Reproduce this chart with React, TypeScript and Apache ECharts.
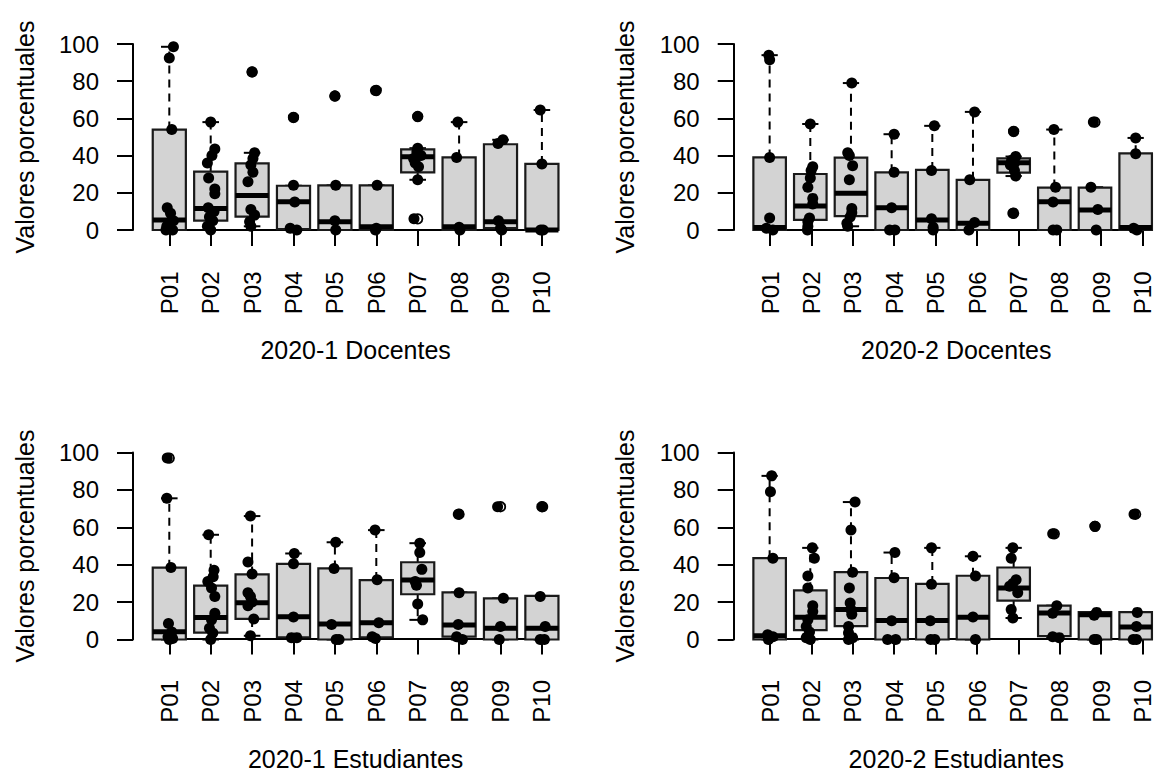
import React, { useEffect, useRef } from "react";
import * as echarts from "echarts";

// ---------------- data ----------------
const categories = ["P01", "P02", "P03", "P04", "P05", "P06", "P07", "P08", "P09", "P10"];
const panelTitles = ["2020-1 Docentes", "2020-2 Docentes", "2020-1 Estudiantes", "2020-2 Estudiantes"];
const yAxisTitle = "Valores porcentuales";

// Panel 1: 2020-1 Docentes
const doc1Low = [0, 0, 2, 0, 0, 0, 27, 0, 0, 0];
const doc1Q1 = [0, 5, 7.2, 0.5, 0, 0, 31, 0, 1, 0];
const doc1Med = [5.4, 11.6, 18.5, 15.2, 4.5, 1.8, 39.4, 1.8, 4.5, 0];
const doc1Q3 = [54, 31.4, 35.8, 23.8, 24, 24, 43.4, 39, 46.1, 35.5];
const doc1High = [98.5, 58, 41.5, 23.8, 24, 24, 44, 58, 48.5, 64.5];
const doc1Points = [
  [98.5, 92.5, 54, 12, 9, 5, 2, 0, 0],
  [58, 43.5, 40, 36, 28, 22, 19.5, 12, 10, 7, 5, 2, 0],
  [85, 41.5, 38.5, 35, 31, 26, 11, 8, 4.5, 2],
  [60.5, 24, 15, 1, 0],
  [72, 24, 5, 0],
  [75, 24, 1, 0],
  [61, 44, 42, 40, 38.5, 36, 34, 27, 6],
  [58, 39, 1.5, 0],
  [48.5, 46.5, 5, 1, 0],
  [64.5, 35.5, 0, 0],
];
const doc1Jitter = [
  [0.1, 0, 0.06, -0.05, 0.03, 0.1, -0.06, 0.08, -0.08],
  [0, 0.1, 0.03, -0.08, -0.05, 0.1, 0.1, -0.06, 0.08, -0.03, 0.05, -0.08, 0],
  [0, 0.06, 0.02, -0.03, 0.02, -0.1, -0.03, 0.06, -0.06, -0.03],
  [0, 0, 0.03, -0.08, 0.08],
  [0, 0.02, 0, 0.02],
  [-0.02, 0.02, 0, -0.02],
  [0, 0, -0.02, 0.08, -0.1, -0.06, 0.02, 0, -0.09],
  [-0.03, -0.06, 0, 0.02],
  [0.06, -0.06, -0.05, 0, 0.03],
  [-0.04, 0, -0.03, 0.03],
];
const doc1Outliers = [[], [], [85], [60.5], [72], [75], [61, 6], [], [], []];

// Panel 2: 2020-2 Docentes
const doc2Low = [0, 0, 2, 0, 0, 0, 29, 0, 0, 0];
const doc2Q1 = [0, 5.4, 7.5, 0, 0, 0, 30.8, 0, 0, 0];
const doc2Med = [1.3, 12.9, 19.7, 12, 5.4, 3.6, 36.2, 15.2, 10.8, 1.3];
const doc2Q3 = [39, 30.1, 38.9, 31, 32.3, 27, 38.5, 22.8, 22.8, 41.2];
const doc2High = [94, 57, 79, 51.5, 56, 63.5, 39.5, 54, 23, 49.5];
const doc2Points = [
  [94, 91.5, 39, 6.5, 1, 0],
  [57, 34, 32, 28, 23, 17, 14, 6.5, 4.5, 2, 0],
  [79, 41.5, 40, 34.5, 27, 11.5, 9.3, 7, 3.6, 2],
  [51.5, 31, 12, 0, 0],
  [56, 32, 6, 1.5, 0],
  [63.5, 27, 4, 0],
  [53, 39.5, 37.5, 36, 35, 32, 29, 9],
  [54, 23, 15, 0, 0],
  [58, 23, 11, 0],
  [49.5, 41, 1, 0],
];
const doc2Jitter = [
  [-0.02, 0, 0, 0, -0.08, 0.08],
  [0, 0.06, 0.02, 0, -0.06, 0.06, 0.06, -0.02, -0.06, -0.06, -0.07],
  [0.02, -0.08, -0.04, 0.04, -0.04, 0.02, 0.02, -0.02, -0.1, -0.08],
  [0.06, 0.06, 0, -0.05, 0.08],
  [0.05, -0.02, -0.02, 0.02, 0.02],
  [0.04, -0.08, 0.04, -0.1],
  [0, 0.05, -0.05, 0.02, -0.08, 0.02, 0.05, -0.02],
  [-0.01, 0.03, -0.03, -0.03, 0.06],
  [-0.04, -0.1, 0.07, 0.03],
  [0, 0, -0.05, 0.03],
];
const doc2Outliers = [[], [], [], [], [], [], [53, 9], [], [58], []];

// Panel 3: 2020-1 Estudiantes
const est1Low = [0, 0, 2, 1, 0, 0.5, 10.5, 0, 0, 0];
const est1Q1 = [0, 3.7, 11, 1.2, 0, 1.2, 24.2, 1.5, 0, 0];
const est1Med = [4.2, 11.7, 19.7, 12.2, 8.3, 9, 31.8, 7.8, 6, 6];
const est1Q3 = [38.4, 28.8, 34.8, 40.4, 38, 31.8, 41.3, 25.2, 22, 23.3];
const est1High = [75.5, 56, 66, 46, 52, 58.5, 51.5, 25.2, 22, 23.3];
const est1Points = [
  [97, 75.5, 38.5, 8.5, 4, 1.5, 0.5, 0],
  [56, 37, 33.5, 31, 27.5, 23, 14, 10.5, 6, 3.5, 0],
  [66, 41.5, 35, 25, 23, 20, 18, 11, 2],
  [46, 40.5, 12, 1, 1],
  [52, 38, 8, 0, 0],
  [58.5, 32, 9, 1.5, 0.5],
  [51.5, 46.5, 37.5, 31, 29, 19, 10.5],
  [67, 25, 8, 1.5, 0],
  [71, 22, 7, 0],
  [71, 23, 7, 0, 0],
];
const est1Jitter = [
  [-0.05, -0.06, 0.04, -0.02, 0.06, -0.03, 0.08, 0],
  [-0.05, 0.08, 0.06, -0.07, 0.02, 0.1, 0.1, 0.02, -0.03, 0.05, 0],
  [-0.04, -0.1, 0, -0.1, -0.04, 0, -0.1, 0.04, -0.04],
  [0.02, 0, 0, -0.05, 0.08],
  [0.02, -0.02, -0.08, 0.03, 0.1],
  [-0.03, 0.02, 0.06, -0.1, -0.02],
  [0.05, 0.05, 0.1, -0.06, -0.03, 0, 0.12],
  [-0.02, 0, -0.02, -0.06, 0.08],
  [-0.07, 0.07, 0, -0.03],
  [0.02, -0.04, 0.08, -0.04, 0.06],
];
const est1Outliers = [[97], [], [], [], [], [], [], [67], [71], [71]];

// Panel 4: 2020-2 Estudiantes
const est2Low = [0, 0, 0, 0, 0, 0, 11.5, 1, 0, 0];
const est2Q1 = [0, 5, 7.1, 0, 0, 0, 20.8, 1.8, 0, 0];
const est2Med = [2, 11.9, 16, 10.1, 10.1, 11.9, 27.5, 14.2, 13.3, 6.7];
const est2Q3 = [43.5, 26.3, 36, 32.9, 29.7, 34.1, 38.5, 18.1, 14.6, 14.6];
const est2High = [87.5, 49, 73.5, 46.5, 49, 44.5, 49, 18.1, 14.6, 14.6];
const est2Points = [
  [87.5, 79, 43.5, 2.5, 1.5, 0],
  [49, 43.5, 34, 27.5, 18, 15, 10.5, 7, 4, 1, 0],
  [73.5, 58.5, 36, 27.5, 19.5, 16, 13.5, 7, 3.5, 1, 0],
  [46.5, 33, 10, 0, 0],
  [49, 29.5, 10, 0, 0],
  [44.5, 34, 12, 0],
  [49, 43.5, 32, 30, 28.5, 25, 16, 11.5],
  [56.5, 18, 14, 1.5, 1],
  [60.5, 14.5, 13, 0, 0],
  [67, 14.5, 7, 0, 0],
];
const est2Jitter = [
  [0.05, 0.02, 0.08, -0.05, 0.08, -0.03],
  [0.05, 0.1, -0.06, -0.06, 0.06, 0.06, -0.06, -0.1, -0.02, -0.1, 0],
  [0.1, 0, 0.04, -0.04, -0.02, 0, 0.02, -0.06, -0.06, 0.04, -0.06],
  [0.08, 0.06, 0, -0.1, 0.1],
  [-0.02, -0.02, -0.05, -0.04, 0.06],
  [0, 0.06, 0, 0.06],
  [-0.02, -0.06, 0.06, -0.02, -0.1, 0.1, -0.06, -0.02],
  [-0.04, 0.06, -0.04, -0.04, 0.12],
  [0, 0.04, -0.02, -0.02, 0.04],
  [-0.04, 0.04, 0.02, 0.02, -0.06],
];
const est2Outliers = [[], [], [], [], [], [], [], [56.5], [60.5], [67]];

// ---------------- layout ----------------
const FONT = "Liberation Sans";
const SPACING = 41.4;
const P01_X = [169.3, 770];
const TOP_Y = [44, 452.5];
const ZERO_Y = [230, 639.5];

type Panel = {
  low: number[]; q1: number[]; med: number[]; q3: number[]; high: number[];
  points: number[][]; jitter: number[][]; outliers: number[][]; title: string;
};

const panels: Panel[] = [
  { low: doc1Low, q1: doc1Q1, med: doc1Med, q3: doc1Q3, high: doc1High, points: doc1Points, jitter: doc1Jitter, outliers: doc1Outliers, title: panelTitles[0] },
  { low: doc2Low, q1: doc2Q1, med: doc2Med, q3: doc2Q3, high: doc2High, points: doc2Points, jitter: doc2Jitter, outliers: doc2Outliers, title: panelTitles[1] },
  { low: est1Low, q1: est1Q1, med: est1Med, q3: est1Q3, high: est1High, points: est1Points, jitter: est1Jitter, outliers: est1Outliers, title: panelTitles[2] },
  { low: est2Low, q1: est2Q1, med: est2Med, q3: est2Q3, high: est2High, points: est2Points, jitter: est2Jitter, outliers: est2Outliers, title: panelTitles[3] },
];

function buildOption() {
  const grid: any[] = [];
  const xAxis: any[] = [];
  const yAxis: any[] = [];
  const series: any[] = [];

  panels.forEach((p, k) => {
    const col = k % 2;
    const row = Math.floor(k / 2);
    const p01 = P01_X[col];
    const top = TOP_Y[row];
    const height = ZERO_Y[row] - TOP_Y[row];
    const axisX = p01 - 36.3;
    const gridLeft = p01 - SPACING / 2;
    const gA = grid.length;
    grid.push({ left: gridLeft, top, width: SPACING * 10, height });
    grid.push({ left: p01, top, width: SPACING * 9, height });

    const txt = { color: "#000", fontFamily: FONT, fontSize: 24 };

    // data grid axes
    xAxis.push({
      gridIndex: gA, type: "value", min: 0.5, max: 10.5, show: false,
    });
    yAxis.push({
      gridIndex: gA, type: "value", min: 0, max: 100, interval: 20,
      offset: gridLeft - axisX,
      axisLine: { show: true, lineStyle: { color: "#000", width: 2 } },
      axisTick: { show: true, length: 16, lineStyle: { color: "#000", width: 2 } },
      axisLabel: { ...txt, margin: 34 },
      splitLine: { show: false },
      name: yAxisTitle, nameLocation: "middle", nameGap: 96,
      nameTextStyle: { color: "#000", fontFamily: FONT, fontSize: 25 },
    });
    // category axis grid
    xAxis.push({
      gridIndex: gA + 1, type: "value", min: 1, max: 10, interval: 1,
      offset: height * 0.04,
      axisLine: { show: true, lineStyle: { color: "#000", width: 2 } },
      axisTick: { show: true, length: 16, lineStyle: { color: "#000", width: 2 } },
      axisLabel: { ...txt, rotate: 90, margin: 34, formatter: (v: number) => categories[Math.round(v) - 1] ?? "" },
      splitLine: { show: false },
      name: p.title, nameLocation: "middle", nameGap: 100,
      nameTextStyle: { color: "#000", fontFamily: FONT, fontSize: 25 },
    });
    yAxis.push({ gridIndex: gA + 1, type: "value", min: 0, max: 100, show: false });

    const boxData = categories.map((_, i) => [i + 1, p.low[i], p.q1[i], p.med[i], p.q3[i], p.high[i]]);
    series.push({
      type: "custom",
      xAxisIndex: gA, yAxisIndex: gA,
      clip: false, silent: true,
      data: boxData,
      renderItem: (_params: any, api: any) => {
        const x = api.value(0);
        const lo = api.value(1), q1 = api.value(2), med = api.value(3), q3 = api.value(4), hi = api.value(5);
        const half = 0.4, st = 0.2;
        const c = (xx: number, yy: number) => api.coord([xx, yy]);
        const pLo = c(x, lo), pQ1 = c(x, q1), pQ3 = c(x, q3), pHi = c(x, hi);
        const tl = c(x - half, q3), br = c(x + half, q1);
        const mL = c(x - half, med), mR = c(x + half, med);
        const sHiL = c(x - st, hi), sHiR = c(x + st, hi);
        const sLoL = c(x - st, lo), sLoR = c(x + st, lo);
        const dash = { stroke: "#000", lineWidth: 2, lineDash: [8, 6] };
        const solid = { stroke: "#000", lineWidth: 2 };
        return {
          type: "group",
          children: [
            { type: "line", shape: { x1: pQ3[0], y1: pQ3[1], x2: pHi[0], y2: pHi[1] }, style: dash },
            { type: "line", shape: { x1: pQ1[0], y1: pQ1[1], x2: pLo[0], y2: pLo[1] }, style: dash },
            { type: "line", shape: { x1: sHiL[0], y1: sHiL[1], x2: sHiR[0], y2: sHiR[1] }, style: solid },
            { type: "line", shape: { x1: sLoL[0], y1: sLoL[1], x2: sLoR[0], y2: sLoR[1] }, style: solid },
            {
              type: "rect",
              shape: { x: tl[0], y: tl[1], width: br[0] - tl[0], height: br[1] - tl[1] },
              style: { fill: "#D3D3D3", stroke: "#1a1a1a", lineWidth: 2.2 },
            },
            { type: "line", shape: { x1: mL[0], y1: mL[1], x2: mR[0], y2: mR[1] }, style: { stroke: "#000", lineWidth: 5 } },
          ],
        };
      },
    });

    const outData: number[][] = [];
    p.outliers.forEach((arr, i) => arr.forEach((v) => outData.push([i + 1, v])));
    series.push({
      type: "scatter", xAxisIndex: gA, yAxisIndex: gA, clip: false, silent: true,
      symbol: "circle", symbolSize: 9.5,
      itemStyle: { color: "rgba(0,0,0,0)", borderColor: "#000", borderWidth: 1.8, opacity: 1 },
      data: outData,
    });

    const ptData: number[][] = [];
    p.points.forEach((arr, i) => arr.forEach((v, j) => ptData.push([i + 1 + (p.jitter[i][j] ?? 0), v])));
    series.push({
      type: "scatter", xAxisIndex: gA, yAxisIndex: gA, clip: false, silent: true,
      symbol: "circle", symbolSize: 11,
      itemStyle: { color: "#000", opacity: 1 },
      data: ptData,
    });
  });

  return { animation: false, backgroundColor: "#fff", grid, xAxis, yAxis, series };
}

export default function App() {
  const ref = useRef<HTMLDivElement>(null);
  useEffect(() => {
    if (!ref.current) return;
    const chart = echarts.init(ref.current, null, { renderer: "svg" });
    chart.setOption(buildOption() as any);
    return () => chart.dispose();
  }, []);
  return (
    <div
      ref={ref}
      style={{ position: "fixed", left: 0, top: 0, width: 1156, height: 772, background: "#fff" }}
    />
  );
}
